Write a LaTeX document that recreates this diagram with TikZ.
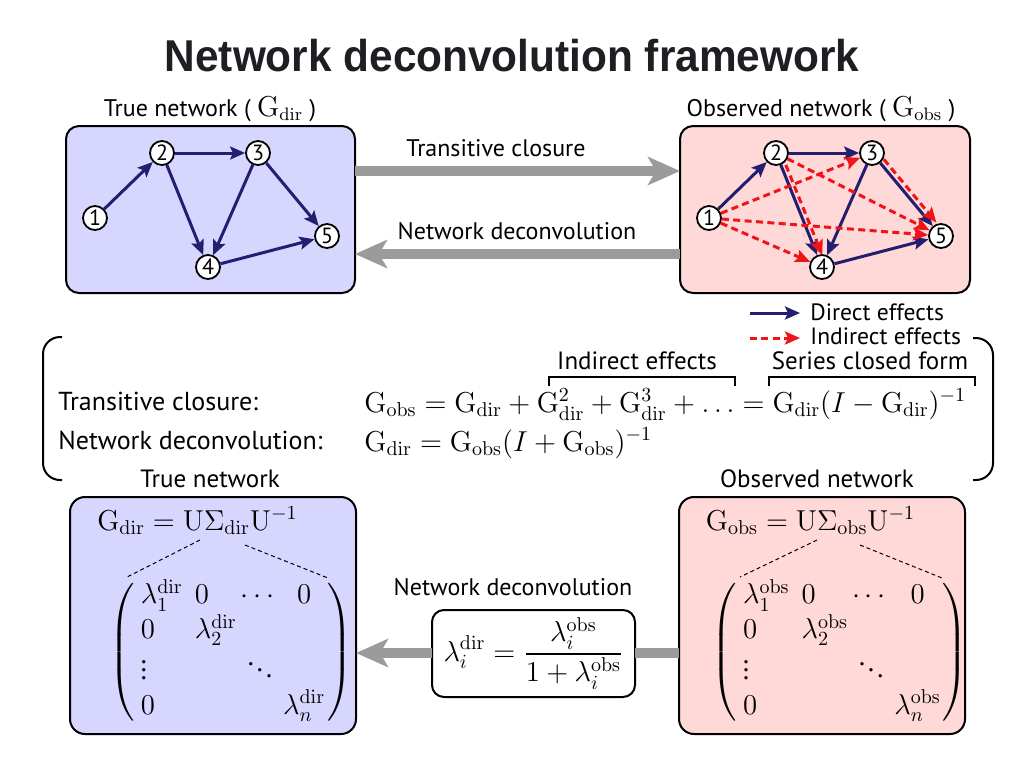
\documentclass[tikz,border=0pt]{standalone}
\usepackage{amsmath}
\usepackage{graphicx}
\usepackage[no-math]{fontspec}
\setmainfont{PT Sans}
\newfontfamily\titlefont{Liberation Sans}
\usetikzlibrary{arrows.meta}
\definecolor{bluefill}{RGB}{214,214,255}
\definecolor{pinkfill}{RGB}{255,216,216}
\definecolor{navy}{RGB}{35,30,112}
\definecolor{redarr}{RGB}{240,20,25}
\definecolor{grayarr}{RGB}{155,155,155}
\definecolor{titlecol}{RGB}{30,30,35}
\newcommand{\Gdir}{\mathrm{G}_{\mathrm{dir}}}
\newcommand{\Gobs}{\mathrm{G}_{\mathrm{obs}}}
\newcommand{\rmU}{\mathrm{U}}
\newcommand{\dirr}{\mathrm{dir}}
\newcommand{\obss}{\mathrm{obs}}
\begin{document}
\begin{tikzpicture}[x=0.5pt,y=-0.5pt,
  box/.style={draw=black, line width=1pt, rounded corners=6.5pt, inner sep=0pt, outer sep=0pt},
  vtx/.style={circle, draw=black, fill=white, line width=0.9pt, minimum size=12pt, inner sep=0pt, font=\fontsize{11}{12}\selectfont},
  dirE/.style={color=navy, line width=1.5pt, -{Stealth[length=7.5pt,width=6.5pt,inset=1.5pt]}},
  indE/.style={color=redarr, line width=1.5pt, dash pattern=on 3.5pt off 2.2pt, -{Stealth[length=7.5pt,width=6.5pt,inset=1.5pt]}},
  bigA/.style={color=grayarr, line width=5pt, -{Stealth[length=16pt,width=14pt,inset=4pt]}},
  bigL/.style={color=grayarr, line width=5pt},
  lbl/.style={font=\fontsize{12}{14}\selectfont, inner sep=0pt},
  leglbl/.style={font=\fontsize{11.8}{14}\selectfont, inner sep=0pt},
  midlbl/.style={font=\fontsize{13}{15}\selectfont, inner sep=0pt},
  sublbl/.style={font=\fontsize{12.5}{15}\selectfont, inner sep=0pt},
  mth/.style={font=\fontsize{14}{17}\selectfont, inner sep=0pt},
  brk/.style={line width=1pt, rounded corners=8.5pt},
  thinD/.style={line width=0.5pt, dash pattern=on 2pt off 1.5pt},
]
\useasboundingbox (0,0) rectangle (1024,768);

% title
\node[font=\titlefont\bfseries\fontsize{22.3}{26}\selectfont, text=titlecol, inner sep=0pt] (title) at (512,56) {\scalebox{0.95}[1]{Network deconvolution framework}};

% top labels
\node[lbl, anchor=base] (ltrue) at (210,116) {True network ( {\fontsize{13.5}{15}\selectfont$\Gdir$} )};
\node[lbl, anchor=base] (lobs) at (821,116) {Observed network ( {\fontsize{13.5}{15}\selectfont$\Gobs$} )};

% top boxes
\node[box, fill=bluefill, minimum width=144.5pt, minimum height=83.5pt] (tl) at (210.5,209.5) {};
\node[box, fill=pinkfill, minimum width=145pt, minimum height=83.5pt] (tr) at (825,209.5) {};

% left graph
\node[vtx] (a1) at (95,218) {1};
\node[vtx] (a2) at (162,153) {2};
\node[vtx] (a3) at (258,153) {3};
\node[vtx] (a4) at (208,267) {4};
\node[vtx] (a5) at (327,236) {5};
\draw[dirE] (a1) -- (a2);
\draw[dirE] (a2) -- (a3);
\draw[dirE] (a2) -- (a4);
\draw[dirE] (a3) -- (a4);
\draw[dirE] (a3) -- (a5);
\draw[dirE] (a4) -- (a5);

% right graph
\node[vtx] (b1) at (709,218) {1};
\node[vtx] (b2) at (776,153) {2};
\node[vtx] (b3) at (872,153) {3};
\node[vtx] (b4) at (822,267) {4};
\node[vtx] (b5) at (941,236) {5};
\draw[dirE] (b1) -- (b2);
\draw[dirE] (b2) -- (b3);
\draw[dirE] (b2) -- (b4);
\draw[dirE] (b3) -- (b4);
\draw[dirE] (b3) -- (b5);
\draw[dirE] (b4) -- (b5);
\draw[indE] (b1) -- (b3);
\draw[indE] (b1) -- (b4);
\draw[indE] (b1) -- (b5);
\draw[indE] (b2) -- (b5);
\draw[indE, transform canvas={xshift=2.5pt}] (b2) -- (b4);
\draw[indE, transform canvas={xshift=1.8pt,yshift=1.8pt}] (b3) -- (b5);

% gray arrows top
\coordinate (ya) at (0,171);
\coordinate (yb) at (0,254);
\draw[bigA] (tl.east |- ya) -- (tr.west |- ya);
\draw[bigA] (tr.west |- yb) -- (tl.east |- yb);
\node[lbl, anchor=base] (ltc) at (496,156) {Transitive closure};
\node[lbl, anchor=base] (lnd) at (517,239) {Network deconvolution};

% legend
\coordinate (l1s) at (750,313);
\coordinate (l1e) at (800,313);
\coordinate (l2s) at (750,338);
\coordinate (l2e) at (800,338);
\draw[dirE] (l1s) -- (l1e);
\draw[indE] (l2s) -- (l2e);
\node[leglbl, anchor=base west] (leg1) at (810,320) {Direct effects};
\node[leglbl, anchor=base west] (leg2) at (810,344) {Indirect effects};

% middle brackets
\draw[brk] (62,337) -- (43,337) -- (43,480) -- (62,480);
\draw[brk] (973,338) -- (993,338) -- (993,480) -- (973,480);

\node[midlbl, anchor=base west] (mtc) at (58,410) {Transitive closure:};
\node[midlbl, anchor=base west] (mnd) at (58,449) {Network deconvolution:};
\node[mth, anchor=base west] (f1) at (364,412) {$\Gobs = \Gdir + \Gdir^{2} + \Gdir^{3} + \ldots = \Gdir(I-\Gdir)^{-1}$};
\node[mth, anchor=base west] (f2) at (364,451) {$\Gdir = \Gobs(I+\Gobs)^{-1}$};

\draw[line width=1pt] (549,386) -- (549,377) -- (735,377) -- (735,386);
\draw[line width=1pt] (769,386) -- (769,377) -- (975,377) -- (975,386);
\node[sublbl, anchor=base] (lie) at (637,369) {Indirect effects};
\node[sublbl, anchor=base] (lsc) at (870,369) {Series closed form};

\node[sublbl, anchor=base] (ltn) at (210,487) {True network};
\node[sublbl, anchor=base] (lon) at (817,487) {Observed network};

% bottom boxes
\node[box, rounded corners=7.5pt, fill=bluefill, minimum width=143pt, minimum height=118.5pt] (bl) at (213,615.5) {};
\node[box, rounded corners=7.5pt, fill=pinkfill, minimum width=143pt, minimum height=118.5pt] (br) at (822,615.5) {};

\node[mth, anchor=base] (fl) at (197.5,530) {$\Gdir = \rmU\Sigma_{\dirr}\rmU^{-1}$};
\node[mth, anchor=base] (fr) at (810.5,530) {$\Gobs = \rmU\Sigma_{\obss}\rmU^{-1}$};

\draw[thinD] (200,540) -- (127,577);
\draw[thinD] (245,545) -- (328,578);
\draw[thinD] (817,540) -- (740,577);
\draw[thinD] (860,545) -- (942,578);

\node[mth] (ml) at (231,652) {$\left(\begin{array}{@{\hspace{3pt}}l@{\hspace{6pt}}l@{\hspace{2pt}}c@{\hspace{2pt}}c@{\hspace{1pt}}}
\lambda_1^{\dirr} & 0 & \cdots & 0\\
0 & \lambda_2^{\dirr} & & \\
\vdots & & \ddots & \\
0 & & & \lambda_n^{\dirr}
\end{array}\right)$};
\node[mth] (mr) at (840,652) {$\left(\begin{array}{@{\hspace{3pt}}l@{\hspace{6pt}}l@{\hspace{2pt}}c@{\hspace{2pt}}c@{\hspace{1pt}}}
\lambda_1^{\obss} & 0 & \cdots & 0\\
0 & \lambda_2^{\obss} & & \\
\vdots & & \ddots & \\
0 & & & \lambda_n^{\obss}
\end{array}\right)$};

% bottom middle
\node[box, mth, rounded corners=6pt, fill=white, minimum width=101.5pt, minimum height=43.5pt] (fb) at (533.5,653.5) {$\displaystyle \lambda_i^{\dirr} = \frac{\lambda_i^{\obss}}{1+\lambda_i^{\obss}}$};
\node[lbl, anchor=base] (lnd2) at (513,595) {Network deconvolution};
\coordinate (yc) at (0,653);
\draw[bigL] (br.west |- yc) -- (fb.east |- yc);
\draw[bigA] (fb.west |- yc) -- (bl.east |- yc);
\end{tikzpicture}
\end{document}
